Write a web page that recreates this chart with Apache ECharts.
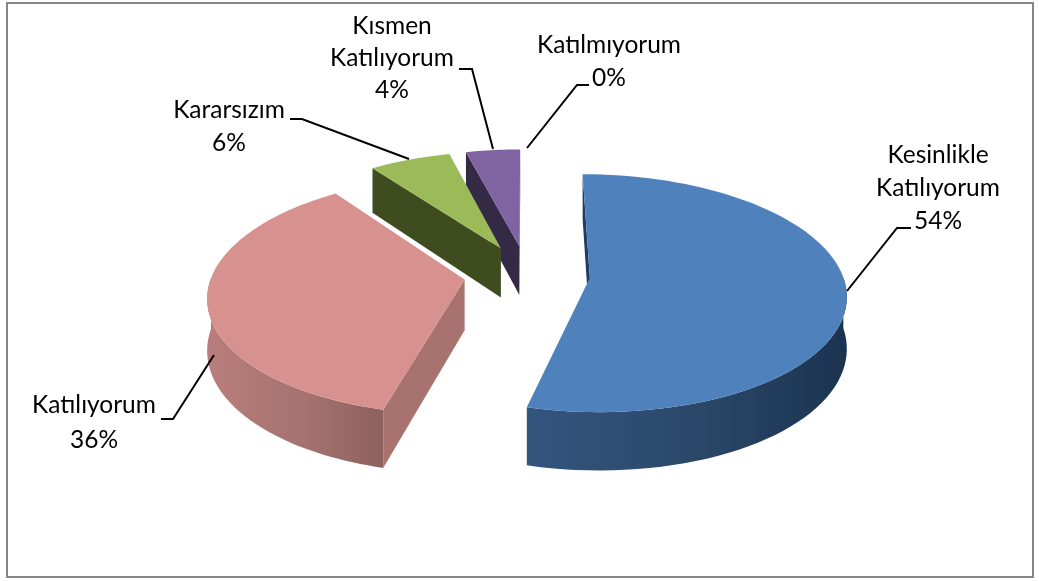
<!DOCTYPE html>
<html><head><meta charset="utf-8">
<style>html,body{margin:0;padding:0;background:#fff}#c{width:1039px;height:581px}</style>
<script src="https://cdn.jsdelivr.net/npm/echarts@6/dist/echarts.min.js"></script>
</head><body><div id="c"></div>
<script>
const categories = ['Kesinlikle Katılıyorum','Katılıyorum','Kararsızım','Kısmen Katılıyorum','Katılmıyorum'];
const values = [54,36,6,4,0];
const topColors = ['#4f81bd','#d7928f','#9bbb59','#8064a2','#4bacc6'];
const sideColors = ['#1f3d60','#a8736f','#3f4c20','#352a45','#2f6f80'];
const rimColors = [['#34557f','#2a4768','#1b3350'],['#b97e7b','#a5726f','#8e615e'],['#3f4c20','#3f4c20','#3f4c20'],['#352a45','#352a45','#352a45'],['#2f6f80','#2f6f80','#2f6f80']];
const drawOrder = [4,3,2,1,0];

const CX=527, CY=274, RX=252.5, RY=116, PERSP=0.13, DEPTH=50.5, EXPLODE=0.25;
const total = values.reduce((a,b)=>a+b,0);
const starts = values.map((_,i)=>values.slice(0,i).reduce((a,b)=>a+b,0)/total*Math.PI*2);

function project(U,V,d){
  const s = 1/(1-PERSP*V);
  return [CX+RX*U*s, CY+RY*V*s+(d?DEPTH*s:0)];
}
function slicePts(i){
  const a0=starts[i], a1=a0+values[i]/total*Math.PI*2, mid=(a0+a1)/2;
  const eu=EXPLODE*Math.sin(mid), ev=-EXPLODE*Math.cos(mid);
  const P=(th,r,d)=>project(eu+r*Math.sin(th), ev-r*Math.cos(th), d);
  return {a0,a1,mid,P};
}
function wall(S,th,fill){
  const A=S.P(0,0,0), B=S.P(th,1,0), C=S.P(S.mid,0.6,0);
  const ex=B[0]-A[0], ey=B[1]-A[1];
  const crossI=ex*(C[1]-A[1])-ey*(C[0]-A[0]);
  const crossD=ex*1;
  if(crossI*crossD>=0) return null;
  return {type:'polygon',shape:{points:[A,B,S.P(th,1,1),S.P(0,0,1)]},style:{fill}};
}
function renderItem(params,api){
  const idx=api.value(0);
  if(!api.value(1)) return {type:'group',children:[]};
  const S=slicePts(idx), kids=[], N=80;
  [S.a0,S.a1].forEach(th=>{const w=wall(S,th,sideColors[idx]); if(w) kids.push(w);});
  const fr=[], bk=[];
  for(let k=0;k<=N;k++){
    const th=S.a0+(S.a1-S.a0)*k/N;
    if(-Math.cos(th)>=-0.02){fr.push(S.P(th,1,0)); bk.unshift(S.P(th,1,1));}
  }
  if(fr.length>1){
    const pts=fr.concat(bk), xs=pts.map(p=>p[0]), x0=Math.min(...xs), x1=Math.max(...xs);
    const c=rimColors[idx];
    kids.push({type:'polygon',shape:{points:pts},style:{fill:new echarts.graphic.LinearGradient(x0,0,x1,0,
      [{offset:0,color:c[0]},{offset:.55,color:c[1]},{offset:1,color:c[2]}],true)}});
  }
  const top=[S.P(0,0,0)];
  for(let k=0;k<=N;k++) top.push(S.P(S.a0+(S.a1-S.a0)*k/N,1,0));
  kids.push({type:'polygon',shape:{points:top},style:{fill:topColors[idx]}});
  return {type:'group',children:kids};
}

const FONT='Lato';
const FS=24.5;
const labelLayout=[
  {i:0,x:938,y:[155,188],lines:['Kesinlikle','Katılıyorum'],py:221},
  {i:1,x:94,y:[405],lines:['Katılıyorum'],py:440},
  {i:2,x:229,y:[110],lines:['Kararsızım'],py:143},
  {i:3,x:392,y:[26,58],lines:['Kısmen','Katılıyorum'],py:90},
  {i:4,x:609,y:[45],lines:['Katılmıyorum'],py:78}
];
const leaders=[
  [[911,228],[897,228],[847,291]],
  [[161,419],[173,419],[214,355]],
  [[290,119],[302,119],[409,159]],
  [[459,69],[472,69],[493,149]],
  [[589,85],[577,85],[527,148]]
];
const g=[{type:'rect',shape:{x:7,y:3,width:1026,height:574},style:{fill:'none',stroke:'#868686',lineWidth:2},z:0}];
labelLayout.forEach(L=>{
  L.lines.concat([values[L.i]+'%']).forEach((t,k)=>{
    const y=k<L.lines.length?L.y[k]:L.py;
    g.push({type:'text',x:L.x,y:y,z:5,style:{text:t,x:0,y:0,align:'center',verticalAlign:'middle',font:FS+'px '+FONT,fill:'#000'}});
  });
});
leaders.forEach(p=>g.push({type:'polyline',z:5,shape:{points:p},style:{fill:'none',stroke:'#000',lineWidth:2}}));

const chart=echarts.init(document.getElementById('c'),null,{renderer:'canvas'});
chart.setOption({
  animation:false,
  backgroundColor:'#fff',
  graphic:g,
  series:[{type:'custom',coordinateSystem:'none',renderItem,silent:true,
    data:drawOrder.map(i=>({name:categories[i],value:[i,values[i]]}))}]
});
</script></body></html>
